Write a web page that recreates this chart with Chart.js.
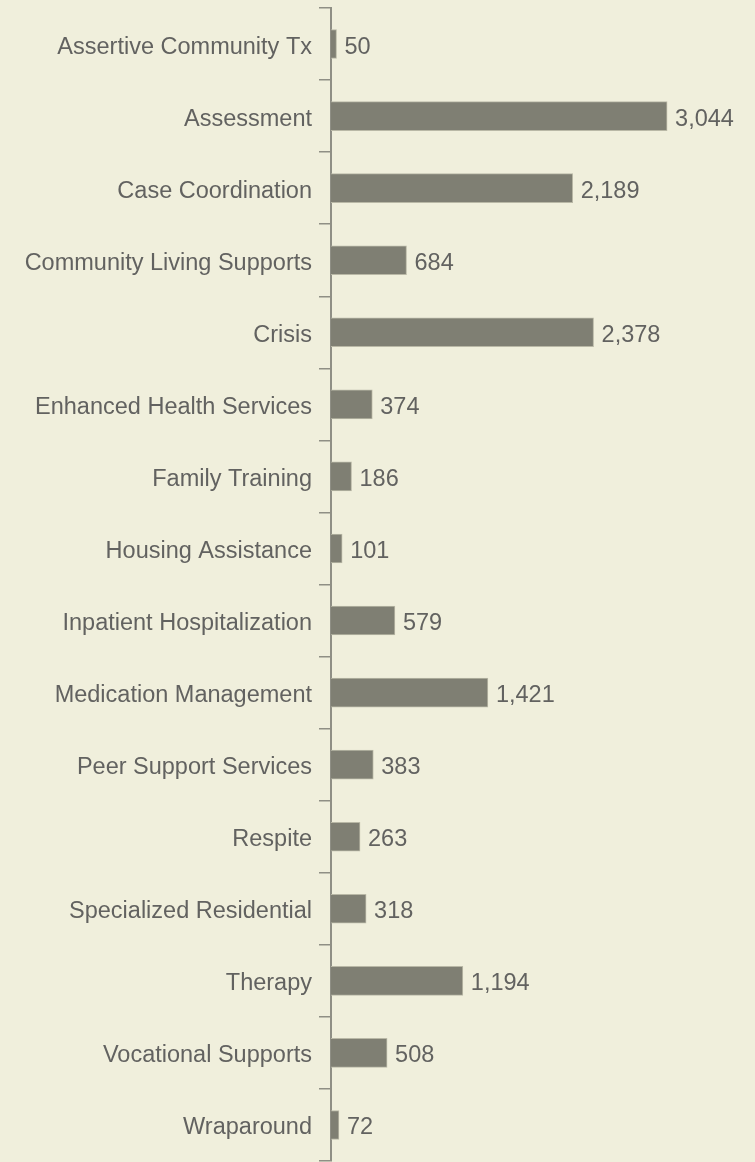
<!DOCTYPE html>
<html>
<head>
<meta charset="utf-8">
<script src="https://cdn.jsdelivr.net/npm/chart.js@4"></script>
<style>
  html, body { margin: 0; padding: 0; background: #f0efdc; }
  #wrap { width: 755px; height: 1162px; position: relative; }
</style>
</head>
<body>
<div id="wrap"><canvas id="chart"></canvas></div>
<script>
const categories = [
    'Assertive Community Tx', 'Assessment', 'Case Coordination', 'Community Living Supports',
    'Crisis', 'Enhanced Health Services', 'Family Training', 'Housing Assistance',
    'Inpatient Hospitalization', 'Medication Management', 'Peer Support Services', 'Respite',
    'Specialized Residential', 'Therapy', 'Vocational Supports', 'Wraparound'
];
const clients = [50, 3044, 2189, 684, 2378, 374, 186, 101, 579, 1421, 383, 263, 318, 1194, 508, 72];

const FONT = '"Liberation Sans", Arial, sans-serif';
const TEXT = '#626260';

// value labels at the end of each bar
const barLabels = {
    id: 'barLabels',
    afterDatasetsDraw(chart) {
        const ctx = chart.ctx;
        const meta = chart.getDatasetMeta(0);
        ctx.save();
        ctx.font = '23.5px ' + FONT;
        ctx.fillStyle = TEXT;
        ctx.textAlign = 'left';
        ctx.textBaseline = 'middle';
        meta.data.forEach((bar, i) => {
            ctx.fillText(clients[i].toLocaleString('en-US'), bar.x + 8, bar.y + 3);
        });
        ctx.restore();
    }
};

new Chart(document.getElementById('chart').getContext('2d'), {
    type: 'bar',
    data: {
        labels: categories,
        datasets: [{
            data: clients,
            backgroundColor: '#7f7f73',
            borderColor: '#b9b8a6',
            borderWidth: 1,
            barThickness: 29
        }]
    },
    options: {
        indexAxis: 'y',
        responsive: true,
        maintainAspectRatio: false,
        animation: false,
        layout: { padding: { top: 8, bottom: 1, left: 0, right: 0 } },
        plugins: { legend: { display: false }, tooltip: { enabled: false } },
        scales: {
            x: { display: false, min: 0, max: 3840 },
            y: {
                afterFit: s => {
                    s.width = 331;
                    s.paddingTop = 0;
                    s.paddingBottom = 0;
                },
                grid: { drawOnChartArea: false, offset: true, tickLength: 12, color: '#8f8f85', lineWidth: 1.5 },
                border: { color: '#8f8f85', width: 2 },
                ticks: { color: TEXT, padding: 7, labelOffset: 3, font: { family: FONT, size: 23.5 } }
            }
        }
    },
    plugins: [barLabels]
});
</script>
</body>
</html>
